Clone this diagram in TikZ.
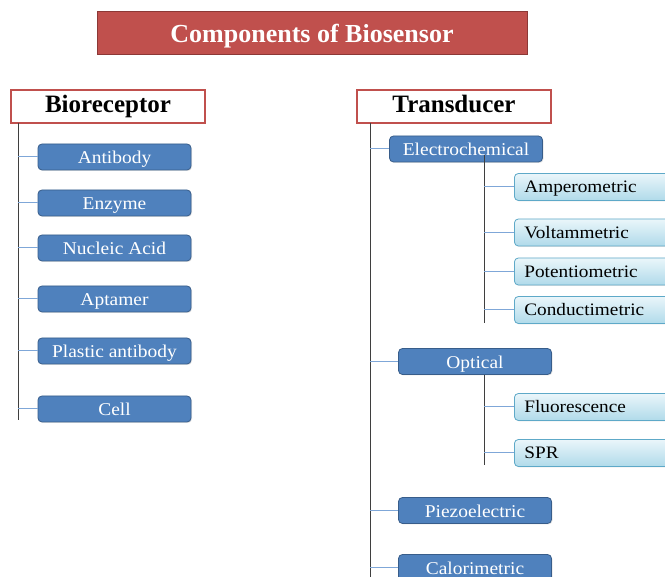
\documentclass[tikz,border=0pt]{standalone}
\usepackage{fontspec}
\setmainfont{Liberation Serif}
\newfontfamily\widefont[FakeStretch=1.08]{Liberation Serif}
\newfontfamily\widerfont[FakeStretch=1.1]{Liberation Serif}
\usetikzlibrary{shadows}
\definecolor{titlered}{HTML}{C0504D}
\definecolor{titleedge}{HTML}{8C3836}
\definecolor{boxblue}{HTML}{4F81BD}
\definecolor{boxedge}{HTML}{385D8A}
\definecolor{lightedge}{HTML}{5EA9C8}
\definecolor{lighttop}{HTML}{EAF6FA}
\definecolor{lightbot}{HTML}{B0DAEA}
\definecolor{linkblue}{HTML}{7FA7D8}
\definecolor{stemgray}{HTML}{3F3F3F}
\tikzset{
  titlebox/.style={draw=titleedge, line width=1pt, fill=titlered, minimum width=430pt, minimum height=43pt, inner sep=0pt, text height=22pt, text depth=3pt, text=white, font=\fontsize{26}{28}\selectfont\bfseries},
  headbox/.style={draw=titlered, line width=1.6pt, fill=white, minimum width=194pt, minimum height=33pt, inner sep=0pt, text height=16.5pt, text depth=5pt, font=\fontsize{25}{27}\selectfont\bfseries},
  bluebox/.style={draw=boxedge, line width=0.8pt, fill=boxblue, rounded corners=4pt, minimum width=153pt, minimum height=26pt, inner sep=0pt, text height=16pt, text depth=2pt, text=white, font=\widefont\fontsize{18}{20}\selectfont, drop shadow={shadow xshift=1pt, shadow yshift=-1pt, opacity=0.2}},
  lightbox/.style={draw=lightedge, line width=0.8pt, top color=lighttop, bottom color=lightbot, rounded corners=4pt, minimum height=27pt, text width=136pt, align=left, inner xsep=10pt, inner ysep=0pt, text height=14.5pt, text depth=3pt, font=\widerfont\fontsize{17.5}{19}\selectfont, drop shadow={shadow xshift=1pt, shadow yshift=-1pt, opacity=0.2}},
  stem/.style={draw=stemgray, line width=1pt},
  link/.style={draw=linkblue, line width=1pt}
}
\begin{document}
\begin{tikzpicture}[x=1pt,y=-1pt]
\useasboundingbox (0,0) rectangle (665,577);
\clip (0,0) rectangle (665,577);
\fill[white] (0,0) rectangle (665,577);
% title
\node[titlebox] (title) at (312,33.5) {Components of Biosensor};
% headers
\node[headbox] (bio) at (108,106.5) {Bioreceptor};
\node[headbox] (trans) at (454,106.5) {Transducer};
% left branch
\coordinate (ltop) at (18,123);
\coordinate (lbot) at (18,420);
\draw[stem] (ltop) -- (lbot);
\node[bluebox] (antibody) at (114.5,157) {Antibody};
\node[bluebox] (enzyme) at (114.5,203) {Enzyme};
\node[bluebox] (nucleic) at (114.5,248) {Nucleic Acid};
\node[bluebox] (aptamer) at (114.5,299) {Aptamer};
\node[bluebox] (plastic) at (114.5,351) {Plastic antibody};
\node[bluebox] (cell) at (114.5,409) {Cell};
\foreach \n in {antibody,enzyme,nucleic,aptamer,plastic,cell}
  \draw[link] (\n.west) -- (ltop |- \n.west);
% right branch
\coordinate (rtop) at (370,123);
\coordinate (rbot) at (370,577);
\draw[stem] (rtop) -- (rbot);
\node[bluebox] (electro) at (466,149) {Electrochemical};
\node[bluebox] (optical) at (475,361.5) {Optical};
\node[bluebox] (piezo) at (475,510.5) {Piezoelectric};
\node[bluebox] (calor) at (475,567.5) {Calorimetric};
\foreach \n in {electro,optical,piezo,calor}
  \draw[link] (\n.west) -- (rtop |- \n.west);
% electrochemical sub-branch
\coordinate (etop) at (484,155);
\coordinate (ebot) at (484,323);
\draw[stem] (etop) -- (ebot);
\node[lightbox, anchor=west] (ampero) at (514,187) {Amperometric};
\node[lightbox, anchor=west] (volta) at (514,232.5) {Voltammetric};
\node[lightbox, anchor=west] (potentio) at (514,271.5) {Potentiometric};
\node[lightbox, anchor=west] (conduct) at (514,310) {Conductimetric};
\foreach \n in {ampero,volta,potentio,conduct}
  \draw[link] (\n.west) -- (etop |- \n.west);
% optical sub-branch
\coordinate (otop) at (484,375);
\coordinate (obot) at (484,465);
\draw[stem] (otop) -- (obot);
\node[lightbox, anchor=west] (fluor) at (514,407) {Fluorescence};
\node[lightbox, anchor=west] (spr) at (514,453) {SPR};
\foreach \n in {fluor,spr}
  \draw[link] (\n.west) -- (otop |- \n.west);
\end{tikzpicture}
\end{document}
